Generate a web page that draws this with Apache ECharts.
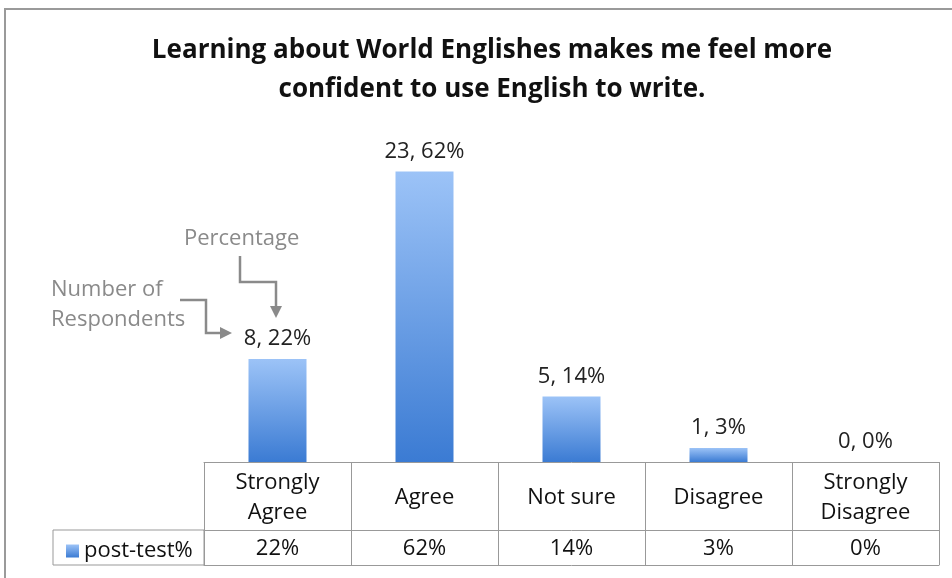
<!DOCTYPE html>
<html><head><meta charset="utf-8">
<script src="https://cdn.jsdelivr.net/npm/echarts@6/dist/echarts.min.js"></script>
<style>html,body{margin:0;padding:0;background:#fff}#c{width:952px;height:578px}</style>
</head><body><div id="c"></div>
<script>
const categories = ['Strongly\nAgree', 'Agree', 'Not sure', 'Disagree', 'Strongly\nDisagree'];
const respondents = [8, 23, 5, 1, 0];
const percents = [22, 62, 14, 3, 0];
const seriesName = 'post-test%';
const titleText = 'Learning about World Englishes makes me feel more\nconfident to use English to write.';

const FONT = '"Open Sans", "Noto Sans", sans-serif';
const grad = new echarts.graphic.LinearGradient(0, 0, 0, 1, [
  {offset: 0, color: '#9CC3F7'},
  {offset: 1, color: '#3B7BD3'}
]);
const chart = echarts.init(document.getElementById('c'));
const gray = '#8a8a8a';
chart.setOption({
  animation: false,
  title: {
    text: titleText, left: 487, top: 26, textAlign: 'center',
    textStyle: {fontFamily: FONT, fontSize: 26, fontWeight: 'bold', color: '#111', lineHeight: 39, align: 'center'}
  },
  legend: {
    data: [{name: seriesName, icon: 'rect'}],
    left: 61, top: 535, itemWidth: 13, itemHeight: 13, itemGap: 6,
    textStyle: {fontFamily: FONT, fontSize: 22, color: '#111'}
  },
  grid: {left: 204, right: 13, top: 134, bottom: 116},
  xAxis: [
    {
      type: 'category', data: categories, position: 'bottom',
      axisLine: {lineStyle: {color: '#999', width: 1}},
      axisTick: {show: true, length: 103, lineStyle: {color: '#999'}},
      axisLabel: {
        fontFamily: FONT, fontSize: 22, color: '#111', margin: 6, lineHeight: 30, interval: 0,
        formatter: v => v.indexOf('\n') >= 0 ? v : '{one|' + v + '}',
        rich: {one: {fontFamily: FONT, fontSize: 22, color: '#111', lineHeight: 60}}
      }
    },
    {
      type: 'category', data: percents.map(p => p + '%'), position: 'bottom', offset: 68,
      axisLine: {lineStyle: {color: '#999', width: 1}},
      axisTick: {show: false},
      axisLabel: {fontFamily: FONT, fontSize: 22, color: '#111', margin: 8, interval: 0}
    },
    {
      type: 'category', data: categories, position: 'bottom', offset: 103,
      axisLine: {lineStyle: {color: '#999', width: 1}},
      axisTick: {show: false}, axisLabel: {show: false}
    }
  ],
  yAxis: {type: 'value', min: 0, max: 70, show: false},
  series: [{
    name: seriesName, type: 'bar', data: percents, barWidth: 58,
    itemStyle: {color: grad},
    label: {
      show: true, position: 'top', distance: 9,
      fontFamily: FONT, fontSize: 22, color: '#222',
      formatter: p => respondents[p.dataIndex] + ', ' + percents[p.dataIndex] + '%'
    }
  }],
  graphic: [
    {type: 'rect', shape: {x: 5, y: 9, width: 1000, height: 700}, style: {fill: 'none', stroke: '#9a9a9a', lineWidth: 2}},
    {type: 'rect', shape: {x: 53, y: 530, width: 151, height: 35}, style: {fill: 'none', stroke: '#999', lineWidth: 1}},
    {type: 'text', left: 184, top: 228, style: {text: 'Percentage', font: '22px ' + FONT, fill: gray}},
    {type: 'text', left: 51, top: 275, style: {text: 'Number of\nRespondents', font: '22px ' + FONT, fill: gray, lineHeight: 30}},
    {type: 'polyline', shape: {points: [[180, 300], [206, 300], [206, 333], [222, 333]]}, style: {stroke: gray, lineWidth: 2.5, fill: 'none'}},
    {type: 'polygon', shape: {points: [[220, 327], [232, 333], [220, 339]]}, style: {fill: gray}},
    {type: 'polyline', shape: {points: [[240, 256], [240, 282], [276, 282], [276, 308]]}, style: {stroke: gray, lineWidth: 2.5, fill: 'none'}},
    {type: 'polygon', shape: {points: [[270, 306], [282, 306], [276, 318]]}, style: {fill: gray}}
  ]
});
</script></body></html>
